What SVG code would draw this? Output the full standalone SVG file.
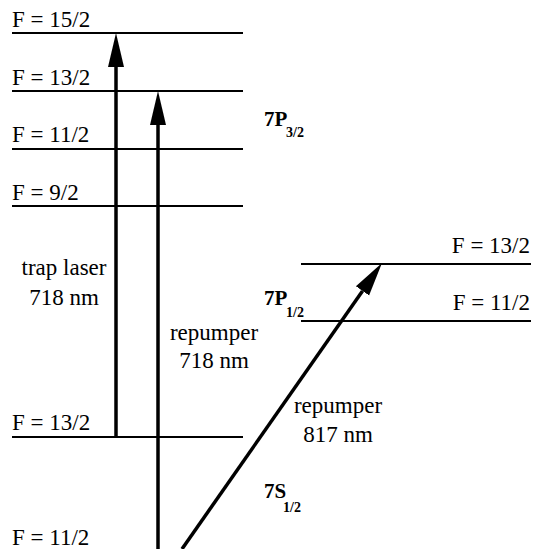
<svg xmlns="http://www.w3.org/2000/svg" width="536" height="549" viewBox="0 0 536 549">
<style>
text{font-family:"Liberation Serif","Times New Roman",serif;fill:#000}
.t{font-size:23px}
.b{font-size:21px;font-weight:bold}
.s{font-size:14px;font-weight:bold}
.lvl{stroke:#000;stroke-width:2}
.arr{stroke:#000;stroke-width:3.5;fill:none;marker-end:url(#ah)}
</style>
<defs>
<marker id="ah" markerUnits="userSpaceOnUse" markerWidth="36" markerHeight="18" refX="0" refY="8" orient="auto" viewBox="0 0 36 16">
<path d="M0,0 L34,8 L0,16 z" fill="#000"/>
</marker>
</defs>
<rect width="536" height="549" fill="#fff"/>
<g id="level-7P32-F15">
<line class="lvl" x1="12" y1="33" x2="243" y2="33"/>
<text class="t" x="12" y="27">F = 15/2</text>
</g>
<g id="level-7P32-F13">
<line class="lvl" x1="12" y1="91" x2="243" y2="91"/>
<text class="t" x="12" y="85">F = 13/2</text>
</g>
<g id="level-7P32-F11">
<line class="lvl" x1="12" y1="149" x2="243" y2="149"/>
<text class="t" x="12" y="142">F = 11/2</text>
</g>
<g id="level-7P32-F9">
<line class="lvl" x1="12" y1="206" x2="243" y2="206"/>
<text class="t" x="12" y="200">F = 9/2</text>
</g>
<g id="level-7S12-F13">
<line class="lvl" x1="12" y1="437" x2="243" y2="437"/>
<text class="t" x="12" y="430">F = 13/2</text>
</g>
<g id="level-7S12-F11">
<text class="t" x="12" y="545">F = 11/2</text>
</g>
<g id="level-7P12-F13">
<line class="lvl" x1="301" y1="264" x2="531" y2="264"/>
<text class="t" x="530" y="253" text-anchor="end">F = 13/2</text>
</g>
<g id="level-7P12-F11">
<line class="lvl" x1="301" y1="321" x2="531" y2="321"/>
<text class="t" x="530" y="310" text-anchor="end">F = 11/2</text>
</g>
<g id="label-7P32">
<text class="b" x="264" y="126">7P</text>
<text class="s" x="286" y="137">3/2</text>
</g>
<g id="label-7P12">
<text class="b" x="264" y="305">7P</text>
<text class="s" x="286" y="317">1/2</text>
</g>
<g id="label-7S12">
<text class="b" x="264" y="498">7S</text>
<text class="s" x="283" y="512">1/2</text>
</g>
<g id="connectors">
<line class="arr" x1="116" y1="437" x2="116" y2="67"/>
<line class="arr" x1="158" y1="549" x2="158" y2="125"/>
<line class="arr" x1="182" y1="549" x2="362.5" y2="290.9"/>
</g>
<g id="connector-labels">
<text class="t" x="64" y="275" text-anchor="middle">trap laser</text>
<text class="t" x="64" y="305" text-anchor="middle">718 nm</text>
<text class="t" x="214" y="340" text-anchor="middle">repumper</text>
<text class="t" x="214" y="368" text-anchor="middle">718 nm</text>
<text class="t" x="338" y="413" text-anchor="middle">repumper</text>
<text class="t" x="338" y="442" text-anchor="middle">817 nm</text>
</g>
</svg>
